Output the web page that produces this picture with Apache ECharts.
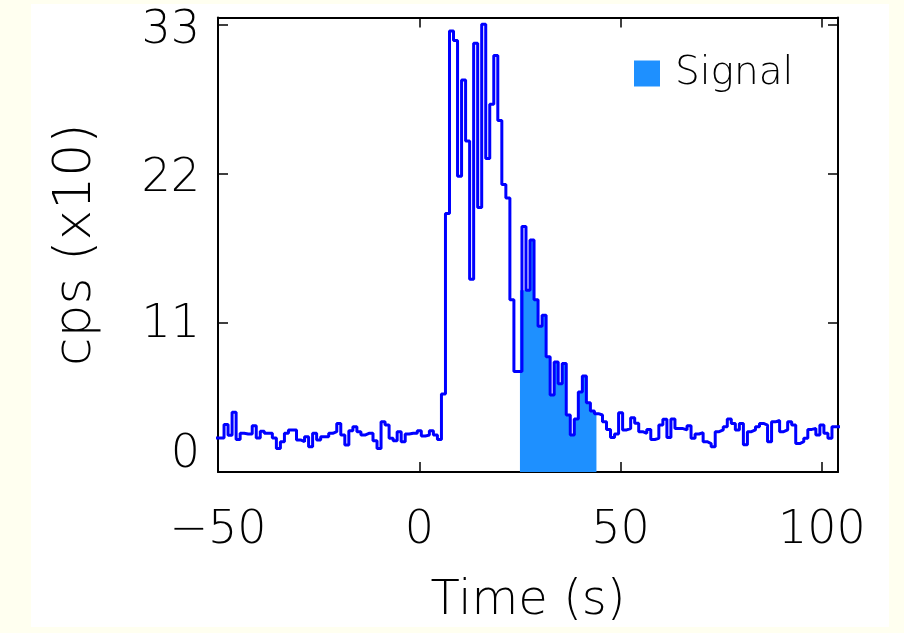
<!DOCTYPE html>
<html><head><meta charset="utf-8">
<script src="https://cdn.jsdelivr.net/npm/echarts@6/dist/echarts.min.js"></script>
<style>html,body{margin:0;padding:0;background:#fffff0;}#c{width:904px;height:633px;}</style>
</head><body><div id="c"></div>
<script>
// light curve bins: 1 s wide, first bin starts at -50.5 s
const firstBinStart = -50.5;
const binWidth = 1;
// counts (x10 cps) before the burst, bins -50.5 .. 4.5
const countsPre = [2.5,2.5,3.5,2.7,4.4,2.4,2.85,2.8,2.8,3.4,2.5,3.0,2.85,2.85,2.5,1.74,2.23,2.85,3.1,3.1,
  2.36,2.23,2.6,1.86,2.85,2.36,2.6,2.6,2.85,2.97,3.58,2.72,1.99,3.04,3.34,2.97,2.72,2.85,2.85,2.31,
  1.74,3.71,3.46,2.48,2.31,2.97,2.23,2.8,2.85,2.85,3.04,2.65,2.72,3.04,2.72,2.4];
// burst, bins 5.5 .. 43.5
const countsBurst = [5.74,19.05,32.5,31.8,21.8,28.9,24.4,14.2,31.6,19.5,33.0,23.1,27.1,30.7,25.9,21.2,20.2,12.7,7.4,7.4,
  18.1,13.4,17.1,12.7,10.75,11.56,8.5,5.67,8.1,6.5,8.0,4.2,2.72,3.9,5.9,7.07,5.1,4.5,4.3];
// after the burst, bins 44.5 .. 103.5
const countsPost = [4.2,3.7,3.14,2.55,2.8,4.37,3.1,3.2,4.0,3.6,2.97,2.85,3.14,2.4,2.48,3.46,3.88,2.55,3.9,3.2,
  3.2,3.1,3.4,2.48,2.8,2.9,2.23,2.1,1.86,2.97,3.1,3.34,3.9,3.58,3.1,3.58,2.0,2.97,3.1,3.34,
  3.58,3.46,2.23,3.7,3.8,2.97,3.1,3.7,3.46,2.1,2.23,2.48,3.14,3.2,2.72,3.46,2.85,2.48,3.34,3.34];
// signal interval and its filled histogram (bins 24.5 .. 43.5, clipped to the interval)
const signalStart = 25, signalEnd = 44;
const signalCounts = [13.4,13.4,13.4,17.1,12.7,10.75,11.56,8.5,5.67,8.1,6.5,8.0,4.2,2.72,3.9,5.9,7.07,5.1,4.5,4.3];
const xTicks = [-50, 0, 50, 100];
const yTicks = [0, 11, 22, 33];

const counts = countsPre.concat(countsBurst, countsPost);
const lineData = counts.map((v, i) => [firstBinStart + i * binWidth, v]);
lineData.push([firstBinStart + counts.length * binWidth, counts[counts.length - 1]]);
const sigFirstBin = Math.floor((signalStart - firstBinStart) / binWidth);
const sigData = signalCounts.map((v, i) => [Math.max(signalStart, firstBinStart + (sigFirstBin + i) * binWidth), v]);
sigData.push([signalEnd, signalCounts[signalCounts.length - 1]]);

const FONT = 'DejaVu Sans';
const lbl = {fontSize: 46, color: '#000', fontFamily: FONT, fontWeight: 200};
const axisLine = {show: true, onZero: false, lineStyle: {color: '#000', width: 2}};
const axisTick = {show: true, inside: true, length: 10, lineStyle: {color: '#000', width: 1.5}};
const yRichKey = {0: 'z', 11: 'a', 22: 'b', 33: 'c'};
const chart = echarts.init(document.getElementById('c'));
chart.setOption({
  backgroundColor: '#fffff0',
  animation: false,
  graphic: [{type: 'rect', z: -10, shape: {x: 31, y: 4, width: 858, height: 623}, style: {fill: '#ffffff'}}],
  grid: {left: 218, right: 66, top: 17.5, bottom: 161},
  legend: {
    left: 634, top: 54, padding: 0, itemWidth: 26, itemHeight: 26,
    data: [{name: 'Signal', icon: 'rect', itemStyle: {color: '#1E90FF'}}],
    textStyle: {fontSize: 39, color: '#000', fontFamily: FONT, fontWeight: 200, padding: [0, 0, 0, 10]}
  },
  xAxis: [{
    type: 'value', min: -50, max: 104, interval: 50, position: 'bottom',
    axisLine, axisTick, splitLine: {show: false},
    axisLabel: Object.assign({margin: 36,
      formatter: v => xTicks.includes(v) ? String(v).replace('-', '\u2212') : ''}, lbl),
    name: 'Time (s)', nameLocation: 'middle', nameGap: 106,
    nameTextStyle: {fontSize: 48, color: '#000', fontFamily: FONT, fontWeight: 200}
  }, {
    type: 'value', min: -50, max: 104, interval: 50, position: 'top',
    axisLine, axisTick, splitLine: {show: false}, axisLabel: {show: false}
  }],
  yAxis: [{
    type: 'value', min: 0, max: 33.5, interval: 11, position: 'left',
    axisLine, axisTick, splitLine: {show: false},
    axisLabel: Object.assign({margin: 18,
      formatter: v => yTicks.includes(v) ? '{' + yRichKey[v] + '|' + v + '}' : '',
      rich: {
        z: Object.assign({padding: [0, 0, 34, 0]}, lbl),
        a: Object.assign({padding: [4, 0, 0, 0]}, lbl),
        b: Object.assign({padding: [12, 0, 0, 0]}, lbl),
        c: Object.assign({padding: [14, 0, 0, 0]}, lbl)
      }}, lbl),
    name: 'cps (x10)', nameLocation: 'middle', nameGap: 116,
    nameTextStyle: {fontSize: 52, color: '#000', fontFamily: FONT, fontWeight: 200}
  }, {
    type: 'value', min: 0, max: 33.5, interval: 11, position: 'right',
    axisLine, axisTick, splitLine: {show: false}, axisLabel: {show: false}
  }],
  series: [{
    name: 'Signal', type: 'line', step: 'end', data: sigData, symbol: 'none', z: 2,
    itemStyle: {color: '#1E90FF'}, lineStyle: {width: 0}, areaStyle: {color: '#1E90FF', opacity: 1}
  }, {
    name: 'lc', type: 'line', step: 'end', data: lineData, symbol: 'none', z: 3,
    lineStyle: {color: '#0000FF', width: 3}, itemStyle: {color: '#0000FF'}
  }]
});
</script></body></html>
